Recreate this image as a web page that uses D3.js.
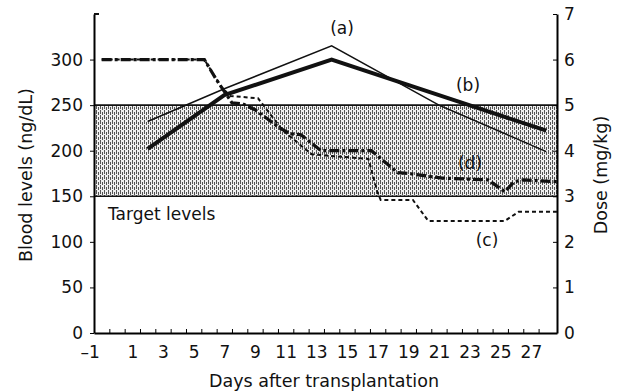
<!DOCTYPE html>
<html>
<head>
<meta charset="utf-8">
<script src="https://cdn.jsdelivr.net/npm/d3@7"></script>
<style>
  body { margin: 0; background: #fff; }
  text { font-family: "DejaVu Sans", "Liberation Sans", Arial, sans-serif; fill: #111; }
</style>
</head>
<body>
<div id="chart"></div>
<script>
// blood levels (ng/dL), left axis
var levelDays = [2, 7, 14, 21, 28];
var levelA = [232, 268, 315, 250, 199];   // (a) thin
var levelB = [202, 261, 300, 261, 222];   // (b) thick

// dose (mg/kg), right axis
var doseDaysD = [-1, 5.7, 6.5, 7.5, 8.2, 9, 10.6, 11.3, 12, 13.3, 16.6, 18.3, 19, 21.2, 24.2, 25.3, 25.9, 26.5, 28.7];
var doseD =     [6, 6, 5.55, 5.05, 5.03, 4.9, 4.5, 4.37, 4.35, 4.0, 4.0, 3.52, 3.5, 3.4, 3.36, 3.1, 3.32, 3.36, 3.32];
var doseDaysC = [-1, 5.7, 6.8, 7.4, 9.2, 10.8, 12.7, 16.4, 17.0, 17.2, 19.3, 20.3, 25.3, 26.2, 28.7];
var doseC =     [6, 6, 5.4, 5.2, 5.15, 4.45, 3.92, 3.82, 3.08, 2.92, 2.92, 2.46, 2.46, 2.66, 2.66];

var targetBand = [150, 250];
var xLabels = [-1, 1, 3, 5, 7, 9, 11, 13, 15, 17, 19, 21, 23, 25, 27];
var leftTicks = [0, 50, 100, 150, 200, 250, 300];
var rightTicks = [0, 1, 2, 3, 4, 5, 6, 7];

var W = 624, H = 391;
var svg = d3.select("#chart").append("svg")
    .attr("width", W).attr("height", H);

var x = d3.scaleLinear().domain([-1.5, 28.7]).range([94, 557]);
var yL = d3.scaleLinear().domain([0, 350]).range([333, 14]);
var yR = d3.scaleLinear().domain([0, 7]).range([333, 14]);

// stipple pattern for the target band (vertical streaks like the scan)
var defs = svg.append("defs");
var pat = defs.append("pattern").attr("id", "stip")
    .attr("patternUnits", "userSpaceOnUse").attr("width", 4).attr("height", 5);
pat.append("rect").attr("width", 4).attr("height", 5).attr("fill", "#f0f0f0");
[[0,0],[0,1],[0,2],[0,3],[2,2],[2,3],[2,4]].forEach(function(p){
  pat.append("rect").attr("x", p[0]).attr("y", p[1]).attr("width", 1).attr("height", 1).attr("fill", "#555");
});

svg.append("rect")
    .attr("x", x.range()[0]).attr("width", x.range()[1] - x.range()[0])
    .attr("y", yL(targetBand[1])).attr("height", yL(targetBand[0]) - yL(targetBand[1]))
    .attr("fill", "url(#stip)");
targetBand.forEach(function(v){
  svg.append("line")
      .attr("x1", x.range()[0]).attr("x2", x.range()[1])
      .attr("y1", yL(v)).attr("y2", yL(v))
      .attr("stroke", "#111").attr("stroke-width", 1.6);
});

svg.append("text").attr("x", 108).attr("y", 220)
    .style("font-size", "17px").text("Target levels");

// axes
var xAxis = svg.append("g").attr("transform", "translate(0,333)")
    .call(d3.axisBottom(x).tickValues(d3.range(-0.5, 28, 1)).tickSizeInner(-4).tickSizeOuter(0).tickFormat(""));
xAxis.select(".domain").attr("stroke-width", 2);
svg.append("g").attr("transform", "translate(0,333)")
    .call(d3.axisBottom(x).tickValues(xLabels).tickSize(0).tickPadding(13)
      .tickFormat(function(d){ return d < 0 ? "\u2013" + Math.abs(d) : d; }))
    .call(function(g){
      g.select(".domain").remove();
      g.selectAll("text").style("font-size", "17px").attr("fill", "#111");
      g.selectAll("text").filter(function(d){ return d < 0; }).attr("dx", -12);
    });

var leftAx = svg.append("g").attr("transform", "translate(94,0)")
    .call(d3.axisLeft(yL).tickValues(leftTicks).tickSizeInner(4).tickSizeOuter(0).tickPadding(7));
leftAx.select(".domain").attr("stroke-width", 2);
leftAx.selectAll("text").style("font-size", "17px").attr("fill", "#111");

var rightAx = svg.append("g").attr("transform", "translate(557,0)")
    .call(d3.axisRight(yR).tickValues(rightTicks).tickFormat(d3.format("d"))
      .tickSizeInner(-4).tickSizeOuter(0).tickPadding(7));
rightAx.select(".domain").attr("stroke-width", 2);
rightAx.selectAll("text").style("font-size", "17px").attr("fill", "#111");

// serif at top of left axis
svg.append("line").attr("x1", 94).attr("x2", 99)
    .attr("y1", yL(350)).attr("y2", yL(350)).attr("stroke", "#111").attr("stroke-width", 2);

// axis titles
svg.append("text").attr("transform", "translate(32,175) rotate(-90)")
    .attr("text-anchor", "middle").style("font-size", "17.5px").text("Blood levels (ng/dL)");
svg.append("text").attr("transform", "translate(607,175) rotate(-90)")
    .attr("text-anchor", "middle").style("font-size", "17.5px").text("Dose (mg/kg)");
svg.append("text").attr("x", 324).attr("y", 387)
    .attr("text-anchor", "middle").style("font-size", "17.5px").text("Days after transplantation");

// lines
var lineL = d3.line().x(function(d){ return x(d[0]); }).y(function(d){ return yL(d[1]); });
var lineR = d3.line().x(function(d){ return x(d[0]); }).y(function(d){ return yR(d[1]); });

svg.append("path").datum(d3.zip(doseDaysC, doseC)).attr("d", lineR)
    .attr("fill", "none").attr("stroke", "#111").attr("stroke-width", 2)
    .attr("stroke-dasharray", "4,3");
svg.append("path").datum(d3.zip(doseDaysD, doseD)).attr("d", lineR)
    .attr("fill", "none").attr("stroke", "#111").attr("stroke-width", 3.2)
    .attr("stroke-dasharray", "10,3,3,3");

svg.append("path").datum(d3.zip(levelDays, levelA)).attr("d", lineL)
    .attr("fill", "none").attr("stroke", "#111").attr("stroke-width", 1.5);
svg.append("path").datum(d3.zip(levelDays, levelB)).attr("d", lineL)
    .attr("fill", "none").attr("stroke", "#111").attr("stroke-width", 4);

// series labels
var lab = [["(a)", 342, 34], ["(b)", 468, 91], ["(d)", 470, 169], ["(c)", 487, 246]];
lab.forEach(function(l){
  svg.append("text").attr("x", l[1]).attr("y", l[2]).attr("text-anchor", "middle")
      .style("font-size", "17px").text(l[0]);
});
</script>
</body>
</html>
